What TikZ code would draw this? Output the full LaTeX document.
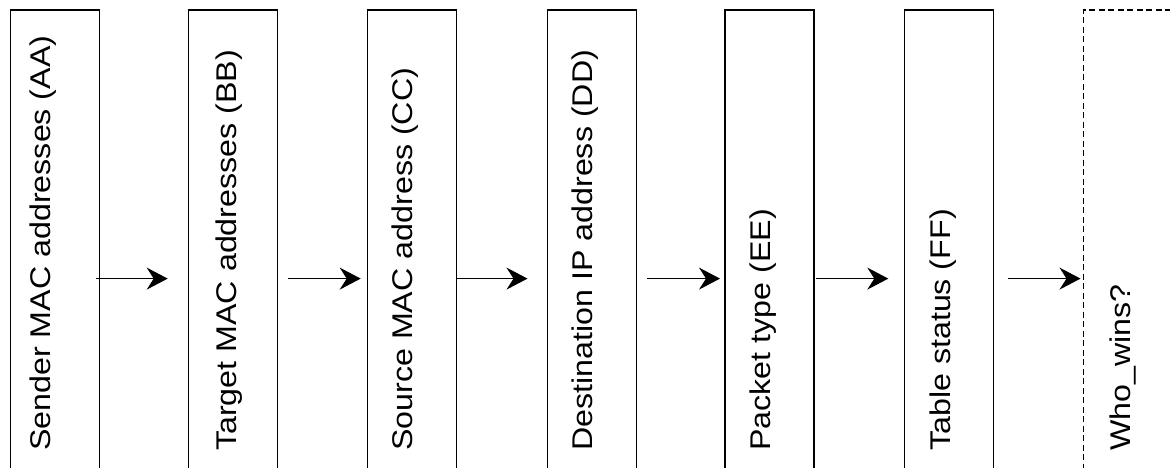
\documentclass[tikz,border=0pt]{standalone}
\usepackage{fontspec}
\setmainfont{Liberation Sans}
\usepackage{graphicx}
\usetikzlibrary{arrows.meta}
\begin{document}
\begin{tikzpicture}[x=1pt,y=-1pt,
  box/.style={draw, line width=1.2pt, minimum width=89pt, minimum height=537pt, inner sep=0pt, anchor=north west},
  dbox/.style={box, dash pattern=on 6pt off 3.5pt},
  lbl/.style={rotate=90, anchor=base west, inner sep=0pt, font=\fontsize{28.5}{34}\selectfont},
  arr/.style={-{Stealth[length=21pt,width=22pt,inset=7pt]}, line width=1.2pt}]
\useasboundingbox (0,0) rectangle (1170,468);
\clip (0,0) rectangle (1170,468);
\node[box]  (b1) at (9.5,9.5) {};
\node[box]  (b2) at (187.5,9.5) {};
\node[box]  (b3) at (366.7,9.5) {};
\node[box]  (b4) at (546.5,9.5) {};
\node[box]  (b5) at (724.3,9.5) {};
\node[box]  (b6) at (904,9.5) {};
\node[dbox] (b7) at (1082.5,9.5) {};
\node[lbl] (t1) at (50,451) {\scalebox{1.13}[1]{Sender MAC addresses (AA)}};
\node[lbl] (t2) at (236.5,451) {\scalebox{1.13}[1]{Target MAC addresses (BB)}};
\node[lbl] (t3) at (412.7,451) {\scalebox{1.13}[1]{Source MAC address (CC)}};
\node[lbl] (t4) at (592.5,451) {\scalebox{1.13}[1]{Destination IP address (DD)}};
\node[lbl] (t5) at (770.3,451) {\scalebox{1.13}[1]{Packet type (EE)}};
\node[lbl] (t6) at (950,451) {\scalebox{1.13}[1]{Table status (FF)}};
\node[lbl] (t7) at (1130,451) {\scalebox{1.13}[1]{Who\_wins?}};
\draw[arr, shorten <=-3.5pt, shorten >=19.8pt] (b1.east) -- (b2.west);
\draw[arr, shorten <=10pt, shorten >=6pt] (b2.east) -- (b3.west);
\draw[arr, shorten <=-1pt, shorten >=19pt] (b3.east) -- (b4.west);
\draw[arr, shorten <=10.7pt, shorten >=4.3pt] (b4.east) -- (b5.west);
\draw[arr, shorten <=1.7pt, shorten >=15.7pt] (b5.east) -- (b6.west);
\draw[arr, shorten <=13.4pt, shorten >=2pt] (b6.east) -- (b7.west);
\end{tikzpicture}
\end{document}
